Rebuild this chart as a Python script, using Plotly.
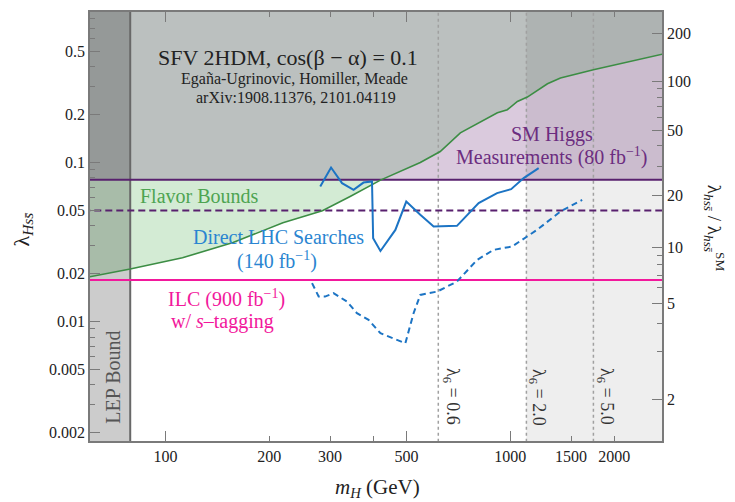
import numpy as np
import plotly.graph_objects as go

# ---------------- data ----------------
# Flavor bound (green curve): m_H [GeV], lambda_Hss
green_m = [60, 79, 112, 157, 219, 285, 343, 420, 548, 626, 716, 917, 980, 1048, 1120, 1281, 1397, 1741, 2800]
green_l = [0.0191, 0.0214, 0.0252, 0.0314, 0.0418, 0.0497, 0.0611, 0.0775, 0.100, 0.1173, 0.1537, 0.2054, 0.2146, 0.2418, 0.2577, 0.3126, 0.3395, 0.3828, 0.483]

# Direct LHC searches (140 fb^-1), solid
lhc_m = [281, 302, 325, 351, 375, 397, 400, 420, 464, 499, 548, 599, 700, 809, 915, 1005, 1093, 1208]
lhc_l = [0.0706, 0.0930, 0.0742, 0.0673, 0.0748, 0.0760, 0.0334, 0.0278, 0.0377, 0.0568, 0.0469, 0.0396, 0.0400, 0.0556, 0.0642, 0.0680, 0.0798, 0.0922]

# Projected direct LHC searches, dashed
proj_m = [266, 278, 290, 307, 336, 359, 388, 420, 496, 524, 548, 613, 700, 801, 894, 1011, 1195, 1397, 1615]
proj_l = [0.01744, 0.01437, 0.01437, 0.01509, 0.01335, 0.01129, 0.01025, 0.00845, 0.00731, 0.01129, 0.01472, 0.01544, 0.01785, 0.02443, 0.02825, 0.02963, 0.03773, 0.0492, 0.0582]

SM_HIGGS_BOUND = 0.0778      # purple solid
SM_HIGGS_PROJ = 0.050        # purple dashed
ILC_BOUND = 0.01828          # pink
LEP_BOUND = 79               # GeV
LAMBDA6_MASSES = [618, 1113, 1741]
LAMBDA6_LABELS = ["0.6", "2.0", "5.0"]
LAMBDA_SM = 1 / 307.0        # ratio = 1 + lambda / LAMBDA_SM

x_ticks = [100, 200, 300, 500, 1000, 1500, 2000]
x_long_ticks = [100, 500, 1000]
x_minor_ticks = [400]
y_ticks = [0.002, 0.005, 0.01, 0.02, 0.05, 0.1, 0.2, 0.5]
y_minor = [0.003, 0.004, 0.006, 0.007, 0.008, 0.009, 0.03, 0.04, 0.06, 0.07, 0.08, 0.09,
           0.3, 0.4, 0.6, 0.7, 0.8]
r_ticks = [2, 5, 10, 20, 50, 100, 200]
r_minor = [3, 4, 6, 7, 8, 9, 30, 40, 60, 70, 80, 90]

X_RANGE = [1.781, 3.4397]     # log10 GeV
Y_RANGE = [-2.7503, -0.0541]  # log10 lambda

# ---------------- styles ----------------
FONT = "Liberation Serif"
C_PURPLE = "#58206e"
C_PURPLE_T = "#6c2d80"
C_BLUE = "#1c74c4"
C_BLUE_T = "#2a85d1"
C_GREEN = "#3c8d44"
C_GREEN_T = "#4da451"
C_PINK = "#f2189c"
F_GRAY = "#bbc0bf"
F_GREEN = "#d3ebd4"
F_PURPLE = "#dacadd"
AX = "#7a7a7a"

XLO, XHI = 40, 5000
YLO, YHI = 1e-4, 5

fig = go.Figure()

# purple-only region (above SM Higgs bound)
fig.add_trace(go.Scatter(x=[XLO, XHI, XHI, XLO], y=[SM_HIGGS_BOUND, SM_HIGGS_BOUND, YHI, YHI],
                         fill="toself", fillcolor=F_PURPLE, line=dict(width=0), mode="lines",
                         hoverinfo="skip", showlegend=False))
# green region (above flavor bound)
gx = list(green_m) + [green_m[-1], green_m[0]]
gy = list(green_l) + [YHI, YHI]
fig.add_trace(go.Scatter(x=gx, y=gy, fill="toself", fillcolor=F_GREEN, line=dict(width=0),
                         mode="lines", hoverinfo="skip", showlegend=False))
# overlap region (above both)
gm = np.array(green_m, float)
gl = np.array(green_l, float)
above = gl > SM_HIGGS_BOUND
i = int(np.argmax(above))
lx0, lx1 = np.log10(gm[i - 1]), np.log10(gm[i])
ly0, ly1 = np.log10(gl[i - 1]), np.log10(gl[i])
t = (np.log10(SM_HIGGS_BOUND) - ly0) / (ly1 - ly0)
xc = 10 ** (lx0 + t * (lx1 - lx0))
ox = [XLO, xc] + list(gm[i:]) + [gm[-1], XLO]
oy = [SM_HIGGS_BOUND, SM_HIGGS_BOUND] + list(gl[i:]) + [YHI, YHI]
fig.add_trace(go.Scatter(x=ox, y=oy, fill="toself", fillcolor=F_GRAY, line=dict(width=0),
                         mode="lines", hoverinfo="skip", showlegend=False))

# LEP band and heavy band
fig.add_trace(go.Scatter(x=[XLO, LEP_BOUND, LEP_BOUND, XLO], y=[YLO, YLO, YHI, YHI],
                         fill="toself", fillcolor="rgba(0,0,0,0.2)", line=dict(width=0),
                         mode="lines", hoverinfo="skip", showlegend=False))
fig.add_trace(go.Scatter(x=[LAMBDA6_MASSES[1], XHI, XHI, LAMBDA6_MASSES[1]], y=[YLO, YLO, YHI, YHI],
                         fill="toself", fillcolor="rgba(0,0,0,0.065)", line=dict(width=0),
                         mode="lines", hoverinfo="skip", showlegend=False))

# vertical lines
fig.add_trace(go.Scatter(x=[LEP_BOUND, LEP_BOUND], y=[YLO, YHI], mode="lines",
                         line=dict(color="#686868", width=2), hoverinfo="skip", showlegend=False))
for m in LAMBDA6_MASSES:
    fig.add_trace(go.Scatter(x=[m, m], y=[YLO, YHI], mode="lines",
                             line=dict(color="#a0a0a0", width=1.5, dash="dot"),
                             hoverinfo="skip", showlegend=False))

# horizontal lines
fig.add_trace(go.Scatter(x=[XLO, XHI], y=[SM_HIGGS_PROJ] * 2, mode="lines",
                         line=dict(color=C_PURPLE, width=2, dash="7px,4px"), showlegend=False))
fig.add_trace(go.Scatter(x=[XLO, XHI], y=[SM_HIGGS_BOUND] * 2, mode="lines",
                         line=dict(color=C_PURPLE, width=2), showlegend=False))
fig.add_trace(go.Scatter(x=[XLO, XHI], y=[ILC_BOUND] * 2, mode="lines",
                         line=dict(color=C_PINK, width=2), showlegend=False))

# curves
fig.add_trace(go.Scatter(x=green_m, y=green_l, mode="lines",
                         line=dict(color=C_GREEN, width=1.6), showlegend=False))
fig.add_trace(go.Scatter(x=proj_m, y=proj_l, mode="lines",
                         line=dict(color=C_BLUE, width=2, dash="6px,4px"), showlegend=False))
fig.add_trace(go.Scatter(x=lhc_m, y=lhc_l, mode="lines",
                         line=dict(color=C_BLUE, width=2), showlegend=False))

# invisible traces to activate overlay axes
fig.add_trace(go.Scatter(x=[200], y=[0.01], xaxis="x2", yaxis="y", mode="markers",
                         marker=dict(opacity=0), hoverinfo="skip", showlegend=False))
fig.add_trace(go.Scatter(x=[200], y=[0.01], xaxis="x", yaxis="y2", mode="markers",
                         marker=dict(opacity=0), hoverinfo="skip", showlegend=False))

tickfont = dict(family=FONT, size=16, color="#222")
# the page body adds an 8 px offset, so margins are shifted to compensate
fig.update_layout(
    width=735, height=502,
    margin=dict(l=82, r=81, t=4, b=69, autoexpand=False),
    paper_bgcolor="white", plot_bgcolor="white",
    font=dict(family=FONT),
    xaxis=dict(type="log", range=X_RANGE, tickmode="array", tickvals=x_ticks,
               ticktext=[str(v) for v in x_ticks], ticks="inside", ticklen=5, tickwidth=1.3,
               tickcolor=AX, showline=True, linecolor=AX, linewidth=1.5, mirror="ticks",
               showgrid=False, zeroline=False, tickfont=tickfont, automargin=False,
               minor=dict(tickmode="array", tickvals=x_minor_ticks, ticks="inside", ticklen=5,
                          tickwidth=1.3, tickcolor=AX, showgrid=False)),
    xaxis2=dict(type="log", range=X_RANGE, overlaying="x", side="bottom", tickmode="array",
                tickvals=x_long_ticks, ticks="inside", ticklen=10, tickwidth=1.3, tickcolor=AX,
                showticklabels=False, showline=False, mirror="ticks", showgrid=False,
                zeroline=False, automargin=False),
    yaxis=dict(type="log", range=Y_RANGE, tickmode="array", tickvals=y_ticks,
               ticktext=[str(v) for v in y_ticks], ticks="inside", ticklen=10, tickwidth=1.3,
               tickcolor=AX, showline=True, linecolor=AX, linewidth=1.5, mirror=False,
               showgrid=False, zeroline=False, tickfont=tickfont, automargin=False,
               minor=dict(tickmode="array", tickvals=y_minor, ticks="inside", ticklen=5,
                          tickwidth=1.3, tickcolor=AX, showgrid=False)),
    yaxis2=dict(type="log", range=Y_RANGE, overlaying="y", side="right", tickmode="array",
                tickvals=[(r - 1) * LAMBDA_SM for r in r_ticks], ticktext=[str(r) for r in r_ticks],
                ticks="inside", ticklen=10, tickwidth=1.3, tickcolor=AX, showline=True,
                linecolor=AX, linewidth=1.5, showgrid=False, zeroline=False, tickfont=tickfont,
                automargin=False,
                minor=dict(tickmode="array", tickvals=[(r - 1) * LAMBDA_SM for r in r_minor],
                           ticks="inside", ticklen=5, tickwidth=1.3, tickcolor=AX, showgrid=False)),
)

def ann(text, x, y, size, color="#222", angle=0):
    fig.add_annotation(text=text, x=x, y=y, xref="paper", yref="paper", showarrow=False,
                       font=dict(family=FONT, size=size, color=color), textangle=angle,
                       xanchor="center", yanchor="middle")

ann("SFV 2HDM, cos(β − α) = 0.1", 0.3458, 0.893, 22)
ann("Egaña-Ugrinovic, Homiller, Meade", 0.358, 0.843, 16)
ann("arXiv:1908.11376, 2101.04119", 0.360, 0.801, 16)
ann("SM Higgs", 0.8072, 0.7133, 20, C_PURPLE_T)
ann("Measurements (80 fb<sup>−1</sup>)", 0.8072, 0.6643, 20, C_PURPLE_T)
ann("Flavor Bounds", 0.1906, 0.5711, 20, C_GREEN_T)
ann("Direct LHC Searches", 0.3287, 0.4762, 20, C_BLUE_T)
ann("(140 fb<sup>−1</sup>)", 0.3264, 0.4203, 20, C_BLUE_T)
ann("ILC (900 fb<sup>−1</sup>)", 0.239, 0.3326, 20, C_PINK)
ann("w/ <i>s</i>–tagging", 0.2325, 0.2781, 20, C_PINK)
ann("LEP Bound", 0.0402, 0.1499, 20, "#555", -90)
for xp, lab in zip([0.6311, 0.7815, 0.9003], LAMBDA6_LABELS):
    ann("λ<sub>6</sub> = " + lab, xp, 0.1026, 18, "#333", 90)
ann("λ<sub><i>Hss̄</i></sub>", -0.118, 0.492, 22, "#222", -90)
ann("λ<sub><i>hss̄</i></sub> / λ<sub><i>hss̄</i></sub><sup>SM</sup>", 1.093, 0.4965, 19, "#222", 90)
ann("<i>m<sub>H</sub></i> (GeV)", 0.502, -0.1096, 21)

fig.write_html("out.html")
